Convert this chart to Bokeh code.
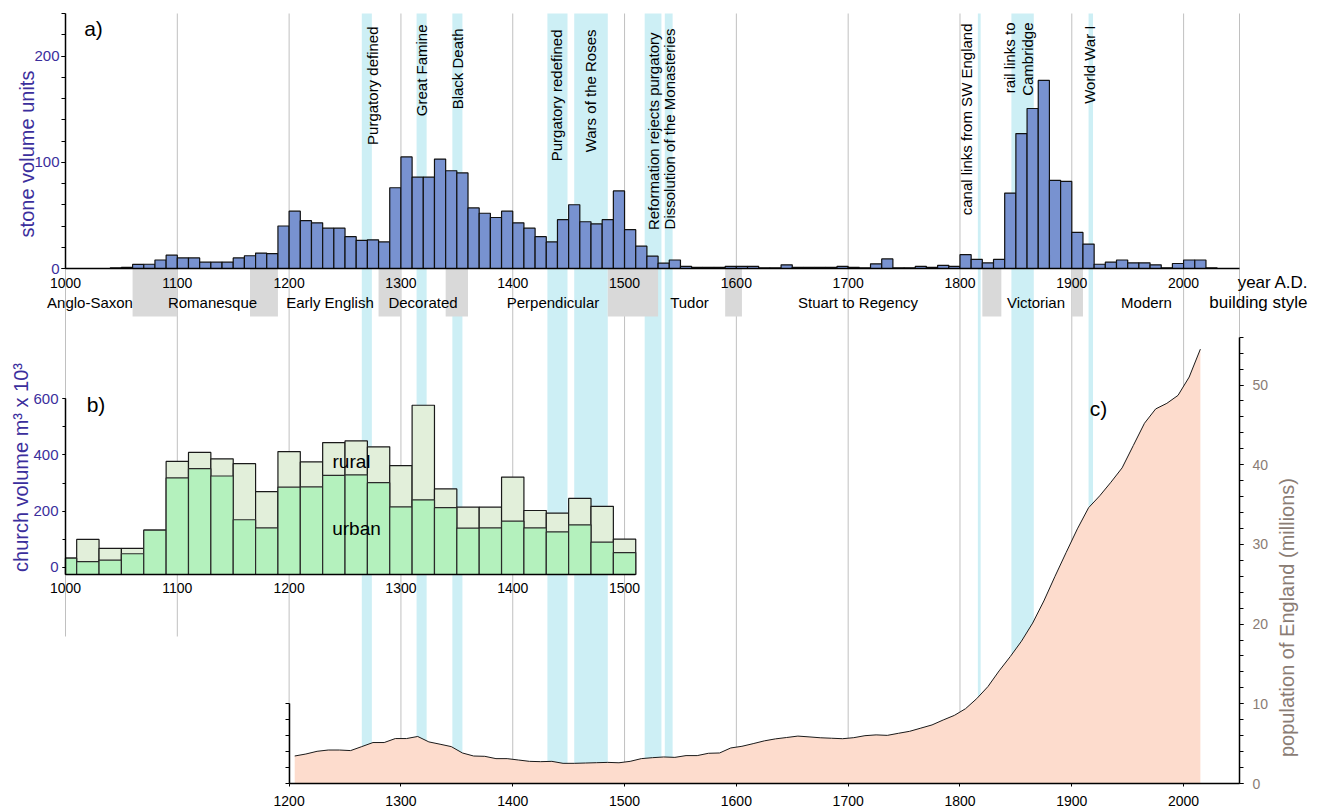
import math
from bokeh.plotting import figure
from bokeh.models import (Range1d, LinearAxis, SingleIntervalTicker, FixedTicker,
                          ColumnDataSource, Label, LabelSet, CustomJSTickFormatter)
from bokeh.core.properties import value
from bokeh.embed import file_html
from bokeh.resources import INLINE

# ---------------------------------------------------------------- data
# a) stone volume per decade
stone_bin_start = list(range(1040, 2021, 10))
stone_volume = [
    0.5, 1, 3.8, 4, 8, 12.5,                          # 1040-1090
    10, 10, 6, 6, 6, 10, 12, 14.5, 14, 40,            # 1100-1190
    54, 45, 43, 38, 38, 30, 26.5, 27, 25, 76,         # 1200-1290
    105, 86, 86, 103, 92, 90, 57, 52, 48, 54,         # 1300-1390
    43, 38, 30, 25, 46, 60, 44, 42, 46, 73,           # 1400-1490
    36.5, 21, 11.6, 5, 8, 2, 1, 1, 1, 2,              # 1500-1590
    2, 2, 0.5, 0.5, 3.5, 1, 1, 1, 1, 2,               # 1600-1690
    1, 0.5, 4.4, 9, 0.5, 0.5, 2, 1, 3, 2,             # 1700-1790
    13, 8.5, 5.3, 8.5, 71, 127, 150.6, 177, 83, 82,   # 1800-1890
    34, 23, 4, 6, 8, 5.3, 5.3, 3.5, 0.5, 4.7,         # 1900-1990
    8, 8, 0.5,                                        # 2000-2020
]
assert len(stone_bin_start) == len(stone_volume)

# b) church volume (m3 x 10^3) per 20-year bin, total (urban + rural) and urban
church_centre = list(range(1000, 1501, 20))
church_total = [32, 99, 67, 67, 132, 377, 409, 386, 369, 269, 412, 375, 444,
                450, 429, 362, 577, 279, 214, 214, 321, 202, 193, 245, 217, 100]
church_urban = [32, 20, 25, 48, 132, 318, 351, 325, 169, 140, 285, 286, 327,
                329, 301, 215, 240, 212, 139, 140, 164, 140, 126, 151, 89, 52]

# c) population of England (millions)
pop_year = list(range(1205, 2016, 10))
pop_millions = [
    3.45, 3.7, 4.04, 4.2, 4.2, 4.13, 4.63, 5.14, 5.14, 5.64,
    5.64, 5.9, 5.22, 4.93, 4.63, 3.83, 3.45, 3.41, 3.12, 3.12,
    2.95, 2.78, 2.74, 2.78, 2.53, 2.53, 2.57, 2.61, 2.65, 2.6,
    2.78, 3.12, 3.24, 3.33, 3.28, 3.5, 3.5, 3.79, 3.83, 4.46,
    4.67, 5.0, 5.35, 5.6, 5.77, 5.95, 5.85, 5.74, 5.68, 5.62,
    5.75, 6.0, 6.1, 6.04, 6.3, 6.55, 6.95, 7.35, 7.97, 8.55,
    9.39, 10.65, 12.16, 14.13, 15.93, 17.86, 20.13, 22.9, 26.0, 29.0,
    31.95, 34.6, 36.1, 37.8, 39.6, 42.4, 45.2, 47.0, 47.7, 48.7,
    51.0, 54.5,
]
assert len(pop_year) == len(pop_millions)

# historical events (bands)
event_start = [1265, 1314, 1346, 1431, 1455, 1518, 1536, 1816, 1846, 1915]
event_end = [1274, 1323, 1355, 1449, 1485, 1533, 1543, 1818.5, 1866, 1919]
event_label = ["Purgatory defined", "Great Famine", "Black Death",
               "Purgatory redefined", "Wars of the Roses",
               "Reformation rejects purgatory", "Dissolution of the Monasteries",
               "canal links from SW England", "rail links to\nCambridge",
               "World War I"]

# building styles and transitions between them
style_name = ["Anglo-Saxon", "Romanesque", "Early English", "Decorated",
              "Perpendicular", "Tudor", "Stuart to Regency", "Victorian", "Modern"]
style_gap_start = [1060, 1165, 1280, 1340, 1485, 1590, 1820, 1900]
style_gap_end = [1100, 1190, 1300, 1360, 1530, 1605, 1837, 1910]

ticks_a = list(range(1000, 2001, 100))
ticks_b = list(range(1000, 1501, 100))
ticks_c = list(range(1200, 2001, 100))
grid_years = list(range(1000, 2001, 100)) + [2050]

# ---------------------------------------------------------------- layout helpers
FONT = "Liberation Sans"
W, H = 1320, 807
X0, X1 = 1000, 2050
XP0, XP1 = 65, 1239          # pixel positions of X0 and X1
PXY = (XP1 - XP0) / (X1 - X0)


def yr(px):
    """pixel x -> year"""
    return X0 + (px - XP0) / PXY


def prange(p0, v0, p1, v1):
    """range whose value v0 sits at pixel row p0 and v1 at row p1"""
    k = (p0 - p1) / (v1 - v0)
    return Range1d(v0 - (H - p0) / k, v0 + p0 / k)


INDIGO = "#3b2e9c"
BROWN = "#8a7c74"

p = figure(width=W, height=H, x_range=Range1d(yr(0), yr(W)), y_range=Range1d(H, 0),
           output_backend="svg", toolbar_location=None,
           x_axis_location=None, y_axis_location=None,
           min_border_left=0, min_border_right=0,
           min_border_top=0, min_border_bottom=0)
p.title.visible = False
p.outline_line_color = None
p.xgrid.visible = False
p.ygrid.visible = False
p.background_fill_color = "white"
p.border_fill_color = "white"

p.extra_y_ranges = {
    "a": prange(268, 0, 13, 240),
    "b": prange(566.7, 0, 398.3, 600),
    "c": prange(783, 0, 336.7, 56),
}
B_FLOOR = -26   # bottom of panel b plot region (value units)

# event bands
p.quad(left=event_start, right=event_end, bottom=783, top=13,
       fill_color="#cdeff5", line_color=None)

# vertical grid lines
grid_bottom = [636 if g < 1200 else (337 if g > 2000 else 783) for g in grid_years]
p.segment(x0=grid_years, x1=grid_years, y0=[13] * len(grid_years), y1=grid_bottom,
          line_color="#c0c0c0", line_width=1)

# building style transition boxes
p.quad(left=style_gap_start, right=style_gap_end, top=268, bottom=316,
       fill_color="#d9d9d9", line_color=None)

# ---- panel a bars
p.quad(left=stone_bin_start, right=[s + 10 for s in stone_bin_start],
       bottom=0, top=stone_volume, y_range_name="a",
       fill_color="#7892d0", line_color="#111111", line_width=1.2)

# ---- panel b bars (clipped at 1000 like the original)
p.quad(left=[max(c - 10, 1000) for c in church_centre],
       right=[c + 10 for c in church_centre],
       bottom=B_FLOOR, top=church_total, y_range_name="b",
       fill_color="#e2efda", line_color="#1a1a1a", line_width=1.2)
p.quad(left=[max(c - 10, 1000) for c in church_centre],
       right=[c + 10 for c in church_centre],
       bottom=B_FLOOR, top=church_urban, y_range_name="b",
       fill_color="#b4f1bd", line_color="#2a2a2a", line_width=1.2)

# ---- panel c population
p.varea(x=pop_year, y1=0, y2=pop_millions, y_range_name="c", fill_color="#fddccd")
p.line(x=pop_year, y=pop_millions, y_range_name="c", line_color="#1a1a1a", line_width=1)

# ---------------------------------------------------------------- axes


def style_axis(ax, size="14px", color="black", tick=0, minor=0, standoff=3):
    ax.axis_line_color = "black"
    ax.axis_line_width = 1.5
    ax.major_tick_line_color = "black"
    ax.minor_tick_line_color = "black"
    ax.major_tick_in = 0
    ax.minor_tick_in = 0
    ax.major_tick_out = tick
    ax.minor_tick_out = minor
    ax.major_label_text_font = FONT
    ax.major_label_text_font_size = size
    ax.major_label_text_color = color
    ax.major_label_standoff = standoff


# a: y axis
ax_ay = LinearAxis(y_range_name="a", fixed_location=X0, bounds=(0, 240),
                   ticker=SingleIntervalTicker(interval=100, num_minor_ticks=5))
style_axis(ax_ay, "15px", INDIGO, 4, 4, 2)
p.add_layout(ax_ay, "left")

# a: x axis
ax_ax = LinearAxis(y_range_name="a", fixed_location=0, bounds=(X0, X1),
                   ticker=FixedTicker(ticks=ticks_a, minor_ticks=[]))
style_axis(ax_ax, "14px", "black", 0, 0, 9)
p.add_layout(ax_ax, "below")

# b: y axis
ax_by = LinearAxis(y_range_name="b", fixed_location=1000, bounds=(B_FLOOR, 600),
                   ticker=SingleIntervalTicker(interval=200, num_minor_ticks=2))
style_axis(ax_by, "15px", INDIGO, 3, 3, 4)
p.add_layout(ax_by, "left")

# b: x axis
ax_bx = LinearAxis(y_range_name="b", fixed_location=B_FLOOR, bounds=(1000, 1510),
                   ticker=FixedTicker(ticks=ticks_b, minor_ticks=[]))
style_axis(ax_bx, "14px", "black", 0, 0, 9)
p.add_layout(ax_bx, "below")

# c: left axis (ticks only)
ax_cl = LinearAxis(y_range_name="c", fixed_location=1200, bounds=(0, 10),
                   ticker=SingleIntervalTicker(interval=2, num_minor_ticks=0),
                   formatter=CustomJSTickFormatter(code="return '';"))
style_axis(ax_cl, "14px", "black", 4, 0, 2)
p.add_layout(ax_cl, "left")

# c: x axis
ax_cx = LinearAxis(y_range_name="c", fixed_location=0, bounds=(1200, X1),
                   ticker=FixedTicker(ticks=ticks_c, minor_ticks=[]))
style_axis(ax_cx, "14px", "black", 3, 0, 9)
p.add_layout(ax_cx, "below")

# c: right axis
ax_cr = LinearAxis(y_range_name="c", fixed_location=X1, bounds=(0, 56),
                   ticker=SingleIntervalTicker(interval=10, num_minor_ticks=5))
style_axis(ax_cr, "14px", BROWN, 4, 4, 9)
p.add_layout(ax_cr, "right")

# ---------------------------------------------------------------- texts
# event labels (rotated, top-aligned)
event_x = [yr(v) for v in [372, 421, 456.5, 556, 590, 653, 669, 966, 1018, 1089]]
event_top = [26, 24, 28, 29, 29, 32, 28, 23, 22, 25]
p.text(x=event_x, y=event_top, text=event_label, angle=math.pi / 2,
       text_align="right", text_baseline="middle", text_font=value(FONT),
       text_font_size="15px", text_color="black", text_line_height=1.1)

# building style names
style_src = ColumnDataSource(dict(
    x=[yr(v) for v in [89.5, 212, 329.5, 422.5, 552.5, 689, 857.5, 1035.5, 1146]],
    y=[302] * len(style_name), name=style_name))
p.add_layout(LabelSet(x="x", y="y", text="name", source=style_src,
                      text_align="center", text_baseline="middle",
                      text_font=value(FONT), text_font_size="15px",
                      text_color="black"))


def label(px, py, text, size="15px", color="black", align="center", angle=0.0):
    p.add_layout(Label(x=yr(px), y=py, text=text, text_font=FONT,
                       text_font_size=size, text_color=color, text_align=align,
                       text_baseline="middle", angle=angle))


label(1308, 282, "year A.D.", "17px", align="right")
label(1307, 302, "building style", "17px", align="right")
label(26, 153.5, "stone volume units", "20px", INDIGO, angle=math.pi / 2)
label(20, 467, "church volume m³ x 10³", "20px", INDIGO, angle=math.pi / 2)
label(1286, 617, "population of England (millions)", "20px", BROWN, angle=math.pi / 2)
label(93, 28, "a)", "21px")
label(95.5, 404, "b)", "21px")
label(1098, 408, "c)", "21px")
label(351, 461, "rural", "19px")
label(356, 528, "urban", "19px")

open("out.html", "w").write(file_html(p, INLINE))
